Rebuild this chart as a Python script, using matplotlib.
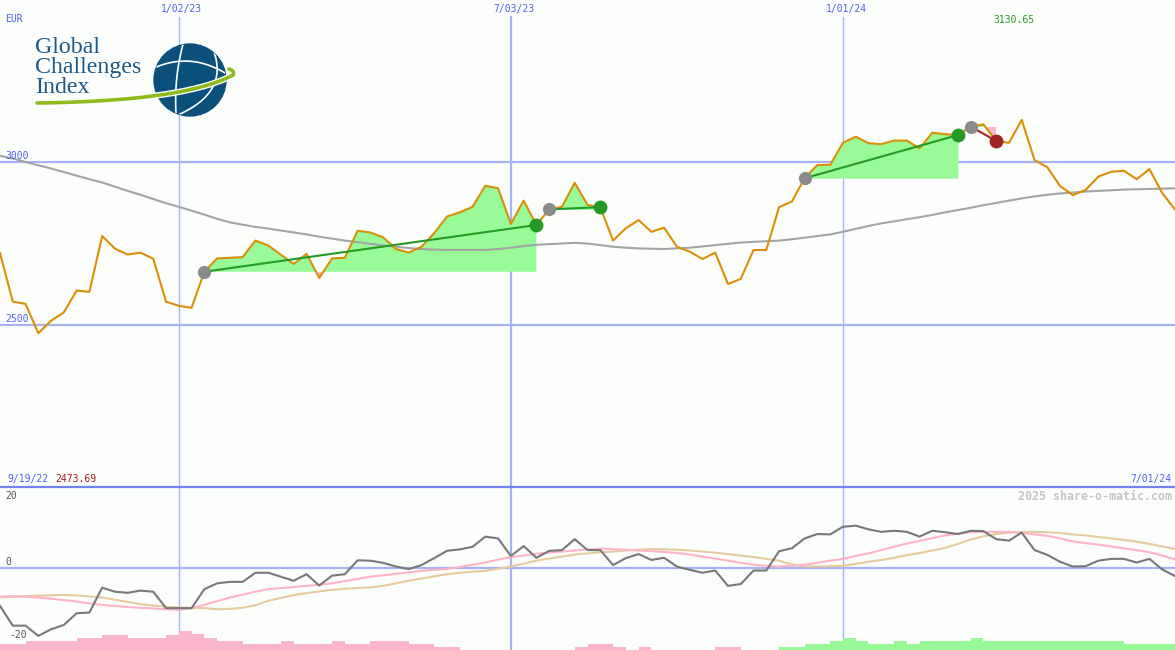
import numpy as np
import pandas as pd
import matplotlib
matplotlib.use("Agg")
import matplotlib.pyplot as plt
import matplotlib.dates as mdates
from matplotlib.patches import Circle

# ---------------- data ----------------
dates = pd.date_range("2022-09-26", periods=93, freq="7D")

price = [2721, 2571, 2564, 2473.69, 2512, 2538, 2605, 2601, 2773, 2734,
         2716, 2722, 2703, 2571, 2558, 2552, 2663, 2704, 2706, 2708,
         2759, 2744, 2715, 2687, 2718, 2644, 2704, 2706, 2789, 2784,
         2769, 2733, 2722, 2740, 2782, 2833, 2846, 2863, 2928, 2920,
         2810, 2882, 2807, 2855, 2863, 2937, 2869, 2862, 2759, 2797,
         2822, 2786, 2799, 2740, 2725, 2702, 2722, 2625, 2641, 2730,
         2730, 2862, 2879, 2951, 2992, 2992, 3060, 3079, 3059, 3056,
         3067, 3067, 3043, 3091, 3087, 3084, 3110, 3117, 3066, 3060,
         3130.65, 3007, 2985, 2927, 2899, 2915, 2956, 2971, 2974, 2948,
         2979, 2905, 2855]

moving_avg = [3020, 3012, 3001, 2991, 2981, 2970, 2959, 2948, 2938, 2925,
              2912, 2900, 2887, 2874, 2863, 2851, 2839, 2826, 2815, 2808,
              2801, 2796, 2790, 2784, 2778, 2771, 2765, 2759, 2754, 2749,
              2744, 2740, 2736, 2733, 2731, 2730, 2730, 2730, 2730, 2733,
              2737, 2742, 2746, 2748, 2750, 2752, 2750, 2745, 2740, 2737,
              2735, 2734, 2733, 2735, 2737, 2741, 2745, 2749, 2753, 2755,
              2757, 2759, 2763, 2768, 2773, 2778, 2786, 2795, 2804, 2812,
              2818, 2825, 2831, 2838, 2846, 2853, 2860, 2868, 2875, 2882,
              2889, 2895, 2900, 2904, 2907, 2910, 2912, 2914, 2916, 2917,
              2918, 2919, 2920]

# trades: (entry week index, exit week index)
trade_entry = [16, 43, 63, 76]
trade_exit = [42, 47, 75, 78]

oscillator = [-10.4, -15.8, -15.8, -18.6, -16.8, -15.6, -12.4, -12.2, -5.4, -6.5,
              -6.8, -6.2, -6.5, -11.0, -11.0, -11.0, -5.8, -4.2, -3.8, -3.8,
              -1.3, -1.3, -2.4, -3.5, -1.7, -4.8, -2.1, -1.7, 2.1, 2.0,
              1.4, 0.4, -0.3, 0.8, 2.7, 4.7, 5.1, 5.8, 8.6, 8.1,
              3.3, 6.0, 2.8, 4.7, 4.9, 7.9, 4.9, 4.9, 0.8, 2.7,
              3.8, 2.2, 2.8, 0.4, -0.5, -1.3, -0.7, -4.9, -4.4, -0.7,
              -0.7, 4.6, 5.4, 8.1, 9.3, 9.2, 11.3, 11.6, 10.6, 9.9,
              10.2, 9.9, 8.6, 10.2, 9.8, 9.3, 10.2, 10.1, 7.9, 7.5,
              9.7, 4.9, 3.6, 1.7, 0.4, 0.5, 2.0, 2.5, 2.5, 1.5,
              2.5, -0.4, -2.2]

signal_fast = [-7.9, -7.7, -7.9, -8.1, -8.4, -8.8, -9.2, -9.7, -10.1, -10.4,
               -10.7, -10.9, -11.1, -11.3, -11.5, -11.0, -10.1, -9.1, -8.1, -7.3,
               -6.5, -5.8, -5.5, -5.2, -4.9, -4.6, -4.2, -3.6, -3.0, -2.4,
               -2.0, -1.6, -1.2, -0.8, -0.5, -0.3, 0.3, 0.9, 1.5, 2.3,
               3.0, 3.4, 3.9, 4.2, 4.5, 4.8, 5.1, 5.3, 5.2, 5.0,
               4.8, 4.6, 4.4, 4.1, 3.7, 3.1, 2.6, 2.0, 1.4, 0.9,
               0.6, 0.4, 0.6, 0.9, 1.4, 2.0, 2.5, 3.3, 4.0, 4.9,
               5.8, 6.7, 7.4, 8.2, 8.9, 9.4, 9.8, 9.9, 9.9, 9.9,
               9.6, 9.2, 8.8, 8.1, 7.3, 6.8, 6.4, 5.9, 5.4, 4.9,
               4.3, 3.4, 2.4]

signal_slow = [-8.0, -7.9, -7.7, -7.6, -7.5, -7.4, -7.5, -7.8, -8.1, -8.7,
               -9.3, -9.9, -10.3, -10.6, -10.8, -10.9, -11.0, -11.3, -11.2, -10.9,
               -10.2, -9.0, -8.2, -7.4, -6.9, -6.4, -6.0, -5.7, -5.5, -5.3,
               -4.9, -4.2, -3.5, -2.9, -2.3, -1.7, -1.3, -1.0, -0.8, -0.2,
               0.4, 1.2, 2.0, 2.6, 3.1, 3.7, 4.0, 4.3, 4.5, 4.8,
               5.0, 5.2, 5.1, 5.0, 4.8, 4.5, 4.2, 3.8, 3.4, 3.0,
               2.5, 2.0, 1.0, 0.4, 0.4, 0.5, 0.6, 1.1, 1.7, 2.2,
               2.8, 3.5, 4.1, 4.8, 5.5, 6.6, 7.8, 8.7, 9.3, 9.7,
               9.8, 9.9, 9.8, 9.6, 9.2, 8.9, 8.5, 8.1, 7.7, 7.2,
               6.6, 5.9, 5.2]

# weekly strength histogram (negative = weak phase, positive = strong phase)
strength = [-2, -2, -3, -3, -3, -3, -4, -4, -5, -5,
            -4, -4, -4, -5, -6.3, -5.3, -4, -3, -3, -2,
            -2, -2, -3, -2, -2, -2, -3, -2, -2, -3,
            -3, -3, -2, -2, -1, -1, 0, 0, 0, 0,
            0, 0, 0, 0, 0, -1, -2, -2, -1, 0,
            -1, 0, 0, 0, 0, 0, -1, -1, 0, 0,
            0, 1, 1, 2, 2, 3, 4, 3, 2, 2,
            3, 2, 3, 3, 3, 3, 4, 3, 3, 3,
            3, 3, 3, 3, 3, 3, 3, 3, 2, 2,
            2, 2]

grid_dates = ["2023-01-02", "2023-07-03", "2024-01-01"]
grid_labels = ["1/02/23", "7/03/23", "1/01/24"]
grid_widths = [1.0, 1.6, 1.0]
y_ticks = [3000, 2500]
osc_ticks = [20, 0, -20]

# ---------------- style ----------------
BG = "#fcfefc"
GRID = "#a6b2f2"
SEP = "#7383ee"
LBL = "#4f5ff2"
MONO = "DejaVu Sans Mono"

x = mdates.date2num(dates.to_pydatetime())
price = np.array(price, dtype=float)

fig = plt.figure(figsize=(11.75, 6.5), dpi=100, facecolor=BG)
ax1 = fig.add_axes([0, 163 / 650, 1, 487 / 650])
ax2 = fig.add_axes([0, 0, 1, 163 / 650])
for ax in (ax1, ax2):
    ax.set_facecolor(BG)
    ax.set_xlim(x[0], x[-1])
    for s in ax.spines.values():
        s.set_visible(False)
    ax.set_xticks([])
    ax.set_yticks([])

ax1.set_ylim(2000, 3500)
ax2.set_ylim(-22.47, 22.19)

# grid
for yt in y_ticks:
    ax1.axhline(yt, color=GRID, lw=1.6, zorder=1)
for d, w in zip(grid_dates, grid_widths):
    xd = mdates.date2num(pd.Timestamp(d).to_pydatetime())
    ax1.axvline(xd, ymax=(487 - 17) / 487, color=GRID, lw=w, zorder=1)
    ax2.axvline(xd, color=GRID, lw=w, zorder=1)
ax2.axhline(0, color=GRID, lw=1.6, zorder=1)

# trades fills
for a, b in zip(trade_entry, trade_exit):
    base = price[a]
    xs = x[a:b + 1]
    ys = price[a:b + 1]
    ax1.fill_between(xs, base, ys, where=ys >= base, interpolate=True,
                     color="#98fb98", lw=0, zorder=2)
    ax1.fill_between(xs, base, ys, where=ys < base, interpolate=True,
                     color="#ffb6c8", lw=0, zorder=2)

ax1.plot(x, moving_avg, color="#a4a4a4", lw=1.5, zorder=3)
ax1.plot(x, price, color="#d98f06", lw=1.5, zorder=4)

for a, b in zip(trade_entry, trade_exit):
    win = price[b] >= price[a]
    c = "#249a24" if win else "#a02424"
    ax1.plot([x[a], x[b]], [price[a], price[b]], color=c, lw=1.5, zorder=5,
             solid_capstyle="butt")
    ax1.plot(x[a], price[a], "o", ms=9.5, color="#8a8a8a", zorder=6, mec="none")
    ax1.plot(x[b], price[b], "o", ms=10, color=c, zorder=6, mec="none")

# lower panel
ax2.plot(x, signal_slow, color="#e6cc9c", lw=1.5, zorder=3)
ax2.plot(x, signal_fast, color="#ffb3c9", lw=1.5, zorder=3)
ax2.plot(x, oscillator, color="#787878", lw=1.5, zorder=4)
ylo = ax2.get_ylim()[0]
unit = 3 / 3.65
heights = [abs(v) * unit for v in strength]
colors = ["#98f898" if v > 0 else "#f9b6ca" for v in strength]
ax2.bar(x[:-1], heights, width=7, align="edge", bottom=ylo, color=colors,
        lw=0, zorder=2)

# ---------------- overlay (labels + logo) ----------------
ov = fig.add_axes([0, 0, 1, 1])
ov.set_xlim(0, 1175)
ov.set_ylim(650, 0)
ov.set_axis_off()
ov.patch.set_alpha(0)

ov.axhline(487, color=SEP, lw=1.6)

fs = 7
ov.text(5, 19, "EUR", color=LBL, fontsize=fs, family=MONO, va="center")
for d, lab in zip(grid_dates, grid_labels):
    xd = mdates.date2num(pd.Timestamp(d).to_pydatetime())
    px = (xd - x[0]) / (x[-1] - x[0]) * 1175
    ov.text(px + 3, 9, lab, color=LBL, fontsize=fs, family=MONO,
            ha="center", va="center")
for yt in y_ticks:
    py = (3500 - yt) / 1500 * 487
    ov.text(5, py - 6, str(yt), color=LBL, fontsize=fs, family=MONO, va="center")

imax = int(np.argmax(price))
imin = int(np.argmin(price))
pxmax = (x[imax] - x[0]) / (x[-1] - x[0]) * 1175
ov.text(pxmax - 8, 20, f"{price[imax]:.2f}", color="#2a9a2a", fontsize=fs,
        family=MONO, ha="center", va="center")
ov.text(7, 479, "9/19/22", color=LBL, fontsize=fs, family=MONO, va="center")
ov.text(55, 479, f"{price[imin]:.2f}", color="#a02020", fontsize=fs,
        family=MONO, va="center")
ov.text(1171, 479, dates[-1].strftime("%-m/%d/%y"), color=LBL, fontsize=fs,
        family=MONO, va="center", ha="right")
ov.text(1172, 496, "2025 share-o-matic.com", color="#c4c4c4", fontsize=8.4,
        family=MONO, weight="bold", va="center", ha="right")
for t in osc_ticks:
    py = 568 - t * 3.65
    py = min(max(py - 6, 496), 642)
    ov.text(5 if t >= 0 else 9, py, str(t), color="#555555", fontsize=fs,
            family=MONO, va="center")

# logo
def bez(p0, p1, p2, n=60):
    t = np.linspace(0, 1, n)[:, None]
    p0, p1, p2 = map(np.array, (p0, p1, p2))
    return (1 - t) ** 2 * p0 + 2 * (1 - t) * t * p1 + t ** 2 * p2

TXT = "#1f5a86"
for word, yb in zip(["Global", "Challenges", "Index"], [53, 73.5, 93]):
    ov.text(35, yb, word, color=TXT, fontsize=17.2, family="Liberation Serif",
            va="baseline", ha="left")

globe = Circle((190, 80), 36, color="#0b4f7b", zorder=10)
ov.add_patch(globe)
for p in [((183, 44), (174, 78), (176, 114)),
          ((154, 68), (190, 52), (225, 73)),
          ((214, 52), (228, 92), (180, 114))]:
    c = bez(*p)
    ln, = ov.plot(c[:, 0], c[:, 1], color="white", lw=1.2, zorder=11)
    ln.set_clip_path(globe)
sw = bez((37, 103), (185, 101), (233, 75))
ov.plot(sw[:, 0], sw[:, 1], color="white", lw=4.5, zorder=12,
        solid_capstyle="round")
ov.plot(sw[:, 0], sw[:, 1], color="#8fba1c", lw=2.6, zorder=13,
        solid_capstyle="round")
hook = bez((233, 75), (235, 71), (229, 69), 20)
ov.plot(hook[:, 0], hook[:, 1], color="#8fba1c", lw=2.6, zorder=13,
        solid_capstyle="round")

fig.savefig("out.png", dpi=100, facecolor=BG)
